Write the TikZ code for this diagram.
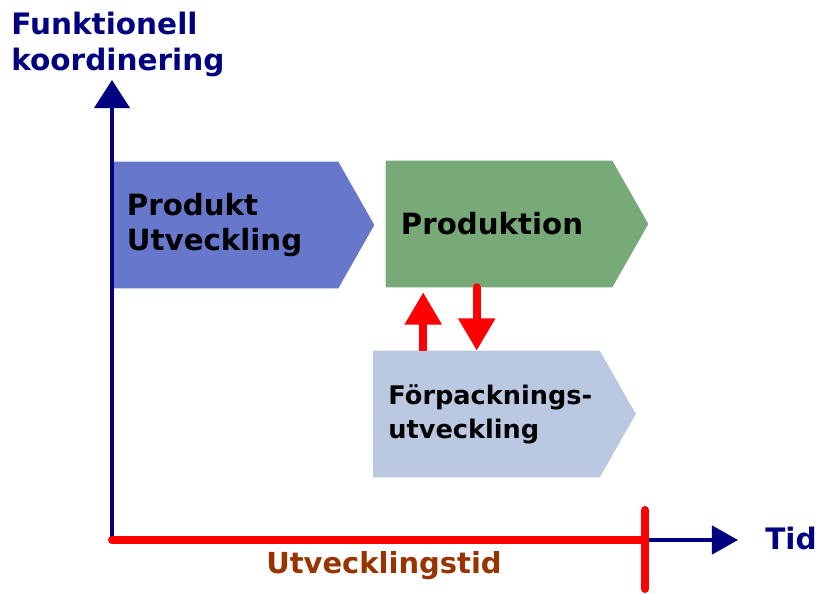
\documentclass[tikz,border=0pt]{standalone}
\usepackage{fontspec}
\setmainfont{DejaVu Sans}
\usetikzlibrary{arrows.meta,positioning,backgrounds}
\definecolor{axisnavy}{RGB}{0,0,128}
\definecolor{timebrown}{RGB}{153,51,0}
\definecolor{stageblue}{RGB}{102,119,204}
\definecolor{stagegreen}{RGB}{119,170,119}
\definecolor{stagelight}{RGB}{187,200,225}
\definecolor{flowred}{RGB}{255,0,0}

\begin{document}
\begin{tikzpicture}[x=0.025cm,y=-0.025cm,
  stage/.style={inner sep=0pt,inner xsep=0.375cm,minimum width=5.65cm,minimum height=3.15cm,text width=4.9cm,align=left,font=\bfseries},
  flow/.style={flowred,line width=5.7pt,-{Triangle[length=23pt,width=25pt]}}]
\useasboundingbox (0,0) rectangle (817,593);

% Stages
\node[stage,font=\bfseries\fontsize{20.8}{24.5}\selectfont] (produkt) at (225,225) {Produkt\\Utveckling};
\node[stage,font=\bfseries\fontsize{20.8}{24.5}\selectfont] (produktion) at (499,224) {Produktion};
\node[stage,font=\bfseries\fontsize{18.2}{24}\selectfont] (forpack) at (486.5,414) {\mbox{Förpacknings-}\\utveckling};
\begin{scope}[on background layer]
\fill[stageblue] (produkt.north west) -- (produkt.north east) -- ([xshift=0.9cm]produkt.east) -- (produkt.south east) -- (produkt.south west) -- cycle;
\fill[stagegreen] (produktion.north west) -- (produktion.north east) -- ([xshift=0.9cm]produktion.east) -- (produktion.south east) -- (produktion.south west) -- cycle;
\fill[stagelight] (forpack.north west) -- (forpack.north east) -- ([xshift=0.9cm]forpack.east) -- (forpack.south east) -- (forpack.south west) -- cycle;
\end{scope}

% Exchange between production and packaging
\coordinate (up) at ([xshift=1.25cm]forpack.north west);
\coordinate (down) at ([xshift=2.275cm]produktion.south west);
\draw[flow,shorten >=3.5pt] (up) -- (up |- produktion.south);
\draw[flow,line cap=round] (down) -- (down |- forpack.north);

% Axes
\coordinate (origin) at (112,540);
\coordinate (ytip) at (112,80);
\coordinate (tick) at (645,540);
\coordinate (xtip) at (738,540);
\draw[axisnavy,line width=2.8pt,-{Triangle[length=20pt,width=25pt]}] (origin) -- (ytip);
\draw[axisnavy,line width=2.8pt,-{Triangle[length=18.5pt,width=20pt]}] (tick) -- (xtip);
\draw[flowred,line width=5.7pt,line cap=round] (origin) -- (tick);
\draw[flowred,line width=5.7pt,line cap=round] (645,510) -- (645,589);
\node[axisnavy,anchor=north west,inner sep=0pt,align=left,font=\bfseries\fontsize{21}{25.5}\selectfont] (ylabel) at (11,12) {Funktionell\\koordinering};
\node[axisnavy,anchor=west,inner sep=0pt,font=\bfseries\fontsize{21}{25}\selectfont] (xlabel) at (765,538) {Tid};
\node[timebrown,inner sep=0pt,font=\bfseries\fontsize{20.6}{24}\selectfont] (span) at (384,566) {Utvecklingstid};
\end{tikzpicture}
\end{document}
